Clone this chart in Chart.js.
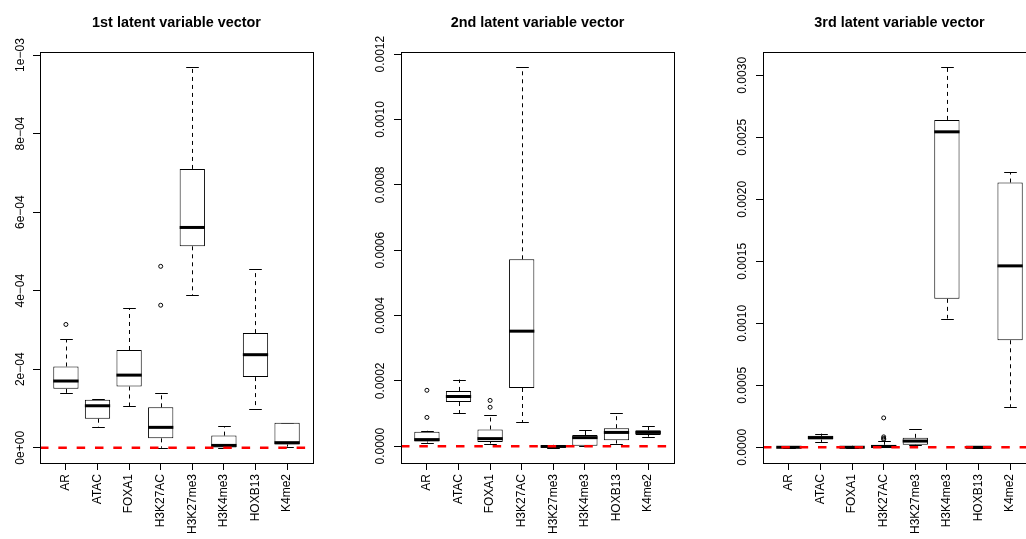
<!DOCTYPE html>
<html>
<head>
<meta charset="utf-8">
<title>Latent variable vectors</title>
<script src="https://cdn.jsdelivr.net/npm/chart.js@4.4.1/dist/chart.umd.min.js"></script>
<style>
  html, body { margin: 0; padding: 0; background: #fff; }
  body { width: 1026px; height: 539px; overflow: hidden; position: relative; }
  canvas { position: absolute; top: 0; }
</style>
</head>
<body>
<canvas id="lv1" width="362" height="539" style="left:-20px"></canvas>
<canvas id="lv2" width="362" height="539" style="left:341px"></canvas>
<canvas id="lv3" width="362" height="539" style="left:703px"></canvas>
<script>
const marks = ['AR', 'ATAC', 'FOXA1', 'H3K27AC', 'H3K27me3', 'H3K4me3', 'HOXB13', 'K4me2'];

// 1st latent variable vector
const v1Low    = [1.39e-4, 0.52e-4, 1.06e-4, 0,       3.89e-4, 0,        1.00e-4, 0.03e-4];
const v1Q1     = [1.50e-4, 0.74e-4, 1.56e-4, 0.24e-4, 5.13e-4, 0.01e-4,  1.80e-4, 0.085e-4];
const v1Median = [1.70e-4, 1.07e-4, 1.85e-4, 0.52e-4, 5.61e-4, 0.06e-4,  2.37e-4, 0.13e-4];
const v1Q3     = [2.07e-4, 1.22e-4, 2.49e-4, 1.03e-4, 7.10e-4, 0.31e-4,  2.92e-4, 0.64e-4];
const v1High   = [2.77e-4, 1.23e-4, 3.56e-4, 1.39e-4, 9.69e-4, 0.545e-4, 4.54e-4, 0.64e-4];
const v1Outliers = [[3.14e-4], [], [], [4.62e-4, 3.63e-4], [], [], [], []];
const v1Ticks = [0, 2e-4, 4e-4, 6e-4, 8e-4, 1e-3];
const v1TickLabels = ['0e+00', '2e\u221204', '4e\u221204', '6e\u221204', '8e\u221204', '1e\u221203'];

// 2nd latent variable vector
const v2Low    = [0.11e-4, 1.01e-4, 0.08e-4, 0.74e-4, -0.05e-4, 0,       0.08e-4, 0.29e-4];
const v2Q1     = [0.14e-4, 1.35e-4, 0.13e-4, 1.78e-4, -0.03e-4, 0.01e-4, 0.18e-4, 0.34e-4];
const v2Median = [0.20e-4, 1.52e-4, 0.23e-4, 3.52e-4, -0.01e-4, 0.26e-4, 0.42e-4, 0.42e-4];
const v2Q3     = [0.44e-4, 1.69e-4, 0.51e-4, 5.72e-4, 0.02e-4,  0.34e-4, 0.55e-4, 0.49e-4];
const v2High   = [0.47e-4, 2.04e-4, 0.94e-4, 11.6e-4, 0.04e-4,  0.48e-4, 1.01e-4, 0.61e-4];
const v2Outliers = [[1.71e-4, 0.88e-4], [], [1.40e-4, 1.19e-4], [], [], [], [], []];
const v2Ticks = [0, 2e-4, 4e-4, 6e-4, 8e-4, 10e-4, 12e-4];
const v2TickLabels = ['0.0000', '0.0002', '0.0004', '0.0006', '0.0008', '0.0010', '0.0012'];

// 3rd latent variable vector
const v3Low    = [-0.04e-4, 0.43e-4, -0.03e-4, 0,       0.15e-4, 10.38e-4, -0.03e-4, 3.26e-4];
const v3Q1     = [-0.02e-4, 0.62e-4, -0.02e-4, 0,       0.20e-4, 11.97e-4, -0.01e-4, 8.63e-4];
const v3Median = [0,        0.78e-4, 0,        0.06e-4, 0.50e-4, 25.44e-4, 0,        14.63e-4];
const v3Q3     = [0.02e-4,  0.92e-4, 0.02e-4,  0.20e-4, 0.76e-4, 26.40e-4, 0.02e-4,  21.35e-4];
const v3High   = [0.10e-4,  1.10e-4, 0.12e-4,  0.54e-4, 1.46e-4, 30.65e-4, 0.10e-4,  22.16e-4];
const v3Outliers = [[], [], [], [2.37e-4, 0.84e-4, 0.72e-4, 0.64e-4], [], [], [], []];
const v3Ticks = [0, 5e-4, 10e-4, 15e-4, 20e-4, 25e-4, 30e-4];
const v3TickLabels = ['0.0000', '0.0005', '0.0010', '0.0015', '0.0020', '0.0025', '0.0030'];

Chart.defaults.font.family = "'Liberation Sans', Arial, Helvetica, sans-serif";
Chart.defaults.font.size = 12;
Chart.defaults.color = '#000';

// axis limits padded by 4% on each side, the way base graphics does it
function paddedRange(lo, hi) {
  const pad = (hi - lo) * 0.04;
  return { min: lo - pad, max: hi + pad };
}

/* whiskers, staples, medians, zero line and frame */
function boxParts(s) {
  const crisp = v => Math.round(v) + 0.5;
  return {
    id: 'boxParts',
    beforeDatasetsDraw(chart) {
      const { ctx, scales: { x, y } } = chart;
      const capHalf = x.getPixelForValue(1.2) - x.getPixelForValue(1);
      ctx.save();
      ctx.strokeStyle = '#000';
      ctx.lineWidth = 1;
      s.low.forEach((lo, i) => {
        const cx = crisp(x.getPixelForValue(i + 1));
        ctx.setLineDash([4, 4]);
        ctx.beginPath();
        ctx.moveTo(cx, y.getPixelForValue(s.q3[i]));
        ctx.lineTo(cx, y.getPixelForValue(s.high[i]));
        ctx.moveTo(cx, y.getPixelForValue(s.q1[i]));
        ctx.lineTo(cx, y.getPixelForValue(lo));
        ctx.stroke();
        ctx.setLineDash([]);
        ctx.beginPath();
        [lo, s.high[i]].forEach(v => {
          const py = crisp(y.getPixelForValue(v));
          ctx.moveTo(cx - capHalf, py);
          ctx.lineTo(cx + capHalf, py);
        });
        ctx.stroke();
      });
      ctx.restore();
    },
    afterDatasetsDraw(chart) {
      const { ctx, chartArea: a, scales: { x, y } } = chart;
      ctx.save();
      ctx.strokeStyle = '#000';
      ctx.lineWidth = 3;
      ctx.lineCap = 'butt';
      s.median.forEach((m, i) => {
        const py = y.getPixelForValue(m);
        ctx.beginPath();
        ctx.moveTo(x.getPixelForValue(i + 0.6), py);
        ctx.lineTo(x.getPixelForValue(i + 1.4), py);
        ctx.stroke();
      });

      const zero = y.getPixelForValue(0);
      ctx.strokeStyle = '#ff0000';
      ctx.lineWidth = 2.5;
      ctx.setLineDash([8.5, 9.83]);
      ctx.beginPath();
      ctx.moveTo(a.left, zero);
      ctx.lineTo(a.right, zero);
      ctx.stroke();

      ctx.setLineDash([]);
      ctx.strokeStyle = '#000';
      ctx.lineWidth = 1;
      ctx.strokeRect(a.left + 0.5, a.top + 0.5, a.right - a.left, a.bottom - a.top);
      ctx.restore();
    }
  };
}

function drawPanel(canvasId, title, s, ticks, tickLabels) {
  const all = s.low.concat(s.high, s.outliers.flat());
  const yr = paddedRange(Math.min(...all), Math.max(...all));
  const xr = paddedRange(0.5, marks.length + 0.5);

  const outlierPoints = [];
  s.outliers.forEach((list, i) => list.forEach(v => outlierPoints.push({ x: i + 1, y: v })));

  new Chart(document.getElementById(canvasId), {
    type: 'bar',
    data: {
      datasets: [
        {
          type: 'bar',
          data: marks.map((m, i) => ({ x: i + 1, y: [s.q1[i], s.q3[i]] })),
          backgroundColor: '#fff',
          borderColor: '#000',
          borderWidth: 1,
          borderSkipped: false,
          barPercentage: 0.8,
          categoryPercentage: 1
        },
        {
          type: 'scatter',
          data: outlierPoints,
          pointStyle: 'circle',
          pointRadius: 2,
          borderColor: '#000',
          borderWidth: 1,
          backgroundColor: 'rgba(0,0,0,0)'
        }
      ]
    },
    options: {
      responsive: false,
      animation: false,
      layout: { padding: { left: 0, right: 29, top: 0, bottom: 0 } },
      plugins: {
        legend: { display: false },
        tooltip: { enabled: false },
        title: {
          display: true,
          text: title,
          fullSize: false,
          font: { size: 14.4, weight: 'bold' },
          padding: { top: 14.7, bottom: 20.02 }
        }
      },
      scales: {
        x: {
          type: 'linear',
          min: xr.min,
          max: xr.max,
          offset: false,
          afterBuildTicks: sc => { sc.ticks = marks.map((m, i) => ({ value: i + 1 })); },
          afterFit: sc => { sc.height = 76; },
          ticks: {
            autoSkip: false,
            minRotation: 90,
            maxRotation: 90,
            padding: 4,
            callback: v => marks[Math.round(v) - 1]
          },
          grid: { drawOnChartArea: false, tickLength: 7, color: '#000', offset: false },
          border: { display: false }
        },
        y: {
          type: 'linear',
          min: yr.min,
          max: yr.max,
          afterBuildTicks: sc => { sc.ticks = ticks.map(v => ({ value: v })); },
          afterFit: sc => { sc.width = 60; },
          ticks: {
            minRotation: 90,
            maxRotation: 90,
            crossAlign: 'center',
            padding: -5,
            callback: (v, i) => tickLabels[i]
          },
          grid: { drawOnChartArea: false, tickLength: 7, color: '#000' },
          border: { display: false }
        }
      }
    },
    plugins: [boxParts(s)]
  });
}

drawPanel('lv1', '1st latent variable vector',
  { low: v1Low, q1: v1Q1, median: v1Median, q3: v1Q3, high: v1High, outliers: v1Outliers },
  v1Ticks, v1TickLabels);
drawPanel('lv2', '2nd latent variable vector',
  { low: v2Low, q1: v2Q1, median: v2Median, q3: v2Q3, high: v2High, outliers: v2Outliers },
  v2Ticks, v2TickLabels);
drawPanel('lv3', '3rd latent variable vector',
  { low: v3Low, q1: v3Q1, median: v3Median, q3: v3Q3, high: v3High, outliers: v3Outliers },
  v3Ticks, v3TickLabels);
</script>
</body>
</html>
